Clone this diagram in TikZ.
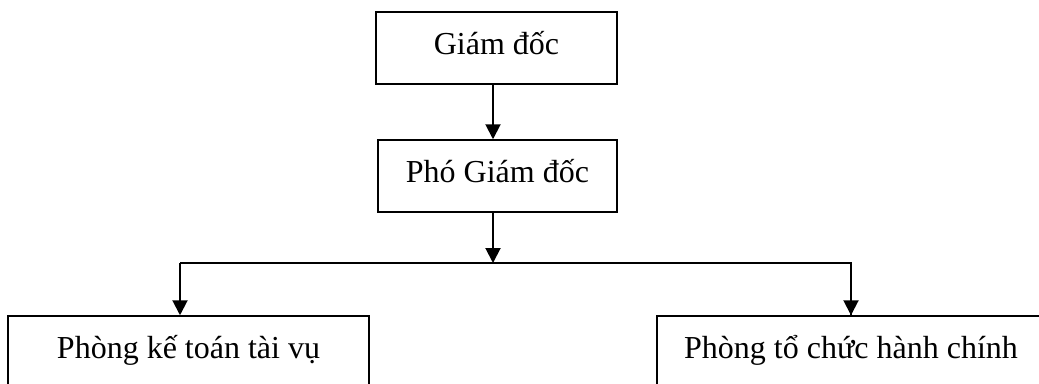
\documentclass[tikz,border=0pt]{standalone}
\usepackage{fontspec}
\setmainfont{Liberation Serif}
\usetikzlibrary{arrows.meta}
\tikzset{
  box/.style={draw, line width=1.5pt, rectangle, minimum height=72pt, inner sep=0pt,
    text height=24pt, text depth=12pt, font=\fontsize{32}{38}\selectfont},
  arr/.style={line width=2pt, -{Triangle[length=15pt,width=15pt]}},
  ln/.style={line width=2pt}
}
\begin{document}
\begin{tikzpicture}[x=1pt,y=-1pt]
\useasboundingbox (0,0) rectangle (1039,383);
\clip (0,0) rectangle (1039,383);
\node[box, minimum width=241pt] (gd) at (496.5,48) {Giám đốc};
\node[box, minimum width=239pt] (pgd) at (497.5,176) {Phó Giám đốc};
\node[box, minimum width=361pt] (kt) at (188.5,352) {Phòng kế toán tài vụ};
\node[box, minimum width=388pt] (tc) at (851,352) {Phòng tổ chức hành chính};
\coordinate (j) at (493,263);
\coordinate (l) at (180,263);
\draw[arr] (gd.south -| j) -- (pgd.north -| j);
\draw[arr] (pgd.south -| j) -- (j);
\draw[ln] (l) -- (j) -| (tc.north);
\draw[arr] (l) -- (kt.north -| l);
\draw[arr] (j -| tc.north) -- (tc.north);
\end{tikzpicture}
\end{document}
